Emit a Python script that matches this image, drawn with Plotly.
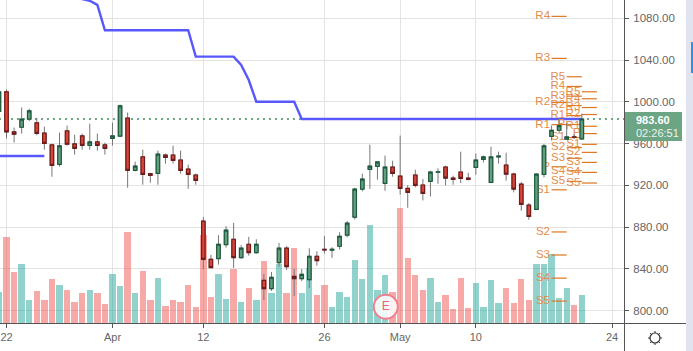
import math
import plotly.graph_objects as go

# ---- data ----
bar_index = list(range(-1, 77))
opens = [991, 1009.7, 971.2, 975.7, 983.4, 979.9, 970.2, 958.7, 940.1, 972.2, 959.7, 967.4, 958.4, 961.6, 958.7, 965.1,
         967.1, 984.4, 934.4, 947.2, 931.2, 931.5, 949.1, 949.1, 944.3, 935.6, 929.9, 885.6, 849.1, 849.8, 863.2, 868.3,
         850.7, 863.5, 855.5, 828.9, 820.9, 845.9, 859.7, 832.8, 830.5, 829.5, 852, 858.7, 857.8, 861.6, 872.2, 889.5,
         916.4, 935.3, 938.2, 921.9, 937.6, 928.9, 917, 929.9, 920.3, 923.8, 932.6, 937.6, 927, 932.8, 927, 937.2,
         944.9, 922.8, 947.2, 939.5, 930.8, 921.2, 901, 896.9, 930.5, 967, 972.8, 964.2, 966.5, 964.5]
highs = [1010.5, 1011.9, 975.4, 994.6, 993.6, 984.7, 976.3, 960, 970.6, 977.3, 968.6, 969.6, 979.2, 969.6, 961, 980.2,
         997.5, 989.8, 942.7, 954.2, 932, 953.3, 950.4, 958.1, 953.3, 939.8, 931.2, 889.5, 853.3, 872.2, 880.8, 884,
         862.6, 870.6, 868.3, 835, 837, 864.8, 861.6, 839.8, 839.8, 859.7, 856.8, 871.5, 860.6, 875, 885.6, 917.7,
         931.2, 959, 942.4, 948.5, 943.6, 967.7, 920.3, 935, 926, 934, 936.3, 938.8, 929.2, 952.3, 932, 950.4,
         948.5, 957.1, 952.3, 951.3, 932.1, 923.1, 903, 931.2, 959.7, 977.3, 983, 979.9, 969, 988.8]
lows = [991, 964.8, 961, 969.6, 981.5, 968, 954.2, 928.2, 937.9, 958.1, 949.4, 954.2, 954.2, 953.3, 949.4, 958.1,
        967, 917.7, 933.4, 920.6, 922.5, 920.6, 940.8, 940.8, 931.2, 916.7, 920.6, 839.8, 841, 844, 860.3, 840.8,
        849.8, 852.6, 854.5, 810, 818.7, 842, 838.8, 813.9, 828.3, 821.5, 843, 854.5, 850.4, 858.4, 870, 887.2,
        914.2, 916.7, 925.4, 914.8, 928.3, 911, 898.5, 918, 905.5, 909.4, 921.5, 919.9, 920.6, 922.2, 924.7, 930.2,
        942, 922.8, 940.8, 924.4, 913.2, 895.6, 887, 896.5, 927.6, 963, 969.6, 963.9, 964.5, 963.5]
closes = [1009.7, 971.2, 969, 983.4, 991.4, 969.9, 960.3, 939.2, 957.8, 959.4, 955.5, 958.4, 961.6, 958.4, 955.5, 967.4,
          996.2, 934.4, 938.5, 930.5, 929.6, 950, 946.8, 944, 934.4, 930.5, 924.7, 849.1, 841.1, 863.5, 877, 850.7,
          859.7, 855.5, 863.5, 820.9, 831.8, 859.7, 842, 830.5, 834.7, 852, 847.8, 858.1, 858.7, 871.2, 883.7, 916.4,
          926, 938.5, 942.4, 937.6, 931.5, 917, 913.2, 919.9, 912.3, 932.7, 933, 927, 925.7, 926.7, 925.7, 944.3,
          947.2, 947.2, 948.1, 930.8, 916.4, 901.7, 890.1, 930.8, 957.8, 972.8, 977.3, 966.4, 966.3, 983.6]
volumes = [31, 86, 51, 59, 23, 32, 23, 44, 38, 33, 21, 30, 33, 30, 19, 49,
           37, 91, 30, 52, 23, 45, 17, 23, 21, 38, 16, 88, 26, 49, 24, 54,
           21, 35, 23, 62, 30, 59, 30, 75, 30, 55, 28, 38, 16, 31, 26, 63,
           44, 98, 33, 48, 31, 115, 65, 48, 33, 45, 21, 28, 14, 45, 15, 40,
           16, 43, 20, 35, 20, 44, 23, 59, 59, 69, 25, 35, 18, 28]

blue_early_x = [-1, 5]
blue_early_y = [948.1, 948.1]
blue_x = [10, 11, 12, 13, 24, 25, 30, 31, 32, 33, 38, 39, 76]
blue_y = [1098.5, 1097, 1093, 1068.7, 1068.7, 1043.4, 1043.4, 1035.4, 1021, 1000.2, 1000.2, 983.6, 983.6]

last_price = 983.6
countdown = "02:26:51"

pivot_names_a = ["R4", "R3", "R2", "R1", "P", "S1", "S2", "S3", "S4", "S5"]
pivot_levels_a = [1082, 1041.7, 999.4, 978.2, 937.8, 915.7, 875.3, 853.2, 831, 809]
pivot_span_a = [72, 74]
pivot_names_b = ["R5", "R4", "R3", "R2", "R1", "P", "S1", "S2", "S3", "S4", "S5"]
pivot_levels_b = [1024.1, 1014.8, 1005.5, 996.5, 986.9, 978.3, 965.8, 956.2, 945.9, 934, 923.8]
pivot_span_b = [74, 76]
pivot_levels_c = [1009.7, 1003, 994.6, 987.9, 976.6, 969.6, 959.3, 951.6, 942, 932.4, 922.2]
pivot_span_c = [76, 78]

x_tick_pos = [0, 14, 26, 42, 52, 62, 80]
x_tick_text = ["22", "Apr", "12", "26", "May", "10", "24"]
y_ticks = [800, 840, 880, 920, 960, 1000, 1040, 1080]

earnings_x = [50.1]
earnings_y = [803.6]

# ---- style ----
W, H = 693, 351
PL_R, PL_B = 624, 323
FONT = "Liberation Sans"
GREEN_F, GREEN_L = "#629f7e", "#1f5c3f"
RED_F, RED_L = "#db4437", "#6e1c1c"
WICK = "#777779"
ORANGE_L, ORANGE_T = "#dd7722", "#e28d4a"
AXIS = "#555555"
PRICE = "#6ba583"
GRID = "#e3e3e3"


def px(x):
    return x / PL_R


def py(y):
    return 1 - y / PL_B


fig = go.Figure()

vol_colors = ["rgba(38,166,154,0.5)" if c >= o else "rgba(239,83,80,0.5)" for o, c in zip(opens, closes)]
fig.add_trace(go.Bar(x=bar_index, y=volumes, marker=dict(color=vol_colors, line_width=0), width=0.84, yaxis="y"))

fig.add_trace(go.Scatter(x=[-1, 82], y=[last_price, last_price], mode="lines", yaxis="y2", zorder=1,
                         line=dict(color=PRICE, width=2, dash="2px,4px")))
for xs, ys in ((blue_early_x, blue_early_y), (blue_x, blue_y)):
    fig.add_trace(go.Scatter(x=xs, y=ys, mode="lines", yaxis="y2", zorder=1, line=dict(color="#5858ff", width=2.4)))

for names, levels, span in ((pivot_names_a, pivot_levels_a, pivot_span_a),
                            (pivot_names_b, pivot_levels_b, pivot_span_b),
                            (pivot_names_b, pivot_levels_c, pivot_span_c)):
    lx, ly = [], []
    for lv in levels:
        lx += [span[0], span[1], None]
        ly += [lv, lv, None]
    fig.add_trace(go.Scatter(x=lx, y=ly, mode="lines", yaxis="y2", zorder=2, line=dict(color=ORANGE_L, width=1.2)))
    fig.add_trace(go.Scatter(x=[span[0] - 0.2] * len(levels), y=levels, text=names, mode="text", yaxis="y2", zorder=2,
                             textposition="middle left",
                             textfont=dict(family=FONT, size=11.5, color=ORANGE_T)))

# wicks
fig.add_trace(go.Candlestick(x=bar_index, open=opens, high=highs, low=lows, close=closes, yaxis="y2", zorder=3,
                             whiskerwidth=0,
                             increasing=dict(line=dict(color=WICK, width=1), fillcolor=WICK),
                             decreasing=dict(line=dict(color=WICK, width=1), fillcolor=WICK)))
# bodies
fig.add_trace(go.Candlestick(x=bar_index, open=opens, close=closes, yaxis="y2", zorder=4,
                             high=[max(o, c) for o, c in zip(opens, closes)],
                             low=[min(o, c) for o, c in zip(opens, closes)],
                             whiskerwidth=0,
                             increasing=dict(line=dict(color=GREEN_L, width=1.2), fillcolor=GREEN_F),
                             decreasing=dict(line=dict(color=RED_L, width=1.2), fillcolor=RED_F)))

fig.add_trace(go.Scatter(x=earnings_x, y=earnings_y, mode="markers+text", text=["E"], yaxis="y2", zorder=5,
                         textposition="middle center",
                         textfont=dict(family=FONT, size=12, color="#ee6377"),
                         marker=dict(size=24, color="rgba(255,255,255,0.85)",
                                     line=dict(color="#f0808f", width=2))))

shapes = [
    dict(type="line", xref="paper", yref="paper", x0=px(PL_R + 0.5), x1=px(PL_R + 0.5), y0=py(0), y1=py(H),
         line=dict(color=AXIS, width=1)),
    dict(type="line", xref="paper", yref="paper", x0=0, x1=px(686), y0=py(PL_B + 0.5), y1=py(PL_B + 0.5),
         line=dict(color=AXIS, width=1)),
    dict(type="rect", xref="paper", yref="paper", x0=px(686), x1=px(W), y0=py(0), y1=py(H),
         fillcolor="#e1e4ee", line_width=0),
    dict(type="rect", xref="paper", yref="paper", x0=px(691), x1=px(W), y0=py(42), y1=py(73),
         fillcolor="#2196f3", line_width=0),
    dict(type="rect", xref="paper", yref="paper", x0=px(625), x1=px(682), y0=py(112), y1=py(141),
         fillcolor=PRICE, line_width=0),
    dict(type="circle", xref="paper", yref="paper", x0=px(650), x1=px(660), y0=py(333), y1=py(343),
         line=dict(color="#333333", width=1.2)),
]
# small sun icon rays
for k in range(8):
    a = k * math.pi / 4
    shapes.append(dict(type="line", xref="paper", yref="paper",
                       x0=px(655 + 5 * math.cos(a)), x1=px(655 + 7 * math.cos(a)),
                       y0=py(338 + 5 * math.sin(a)), y1=py(338 + 7 * math.sin(a)),
                       line=dict(color="#333333", width=1)))

annotations = [
    dict(xref="paper", yref="paper", x=px(634), y=py(120), text="<b>%.2f</b>" % last_price, showarrow=False,
         xanchor="left", yanchor="middle", font=dict(family=FONT, size=11, color="white")),
    dict(xref="paper", yref="paper", x=px(634), y=py(133), text=countdown, showarrow=False,
         xanchor="left", yanchor="middle", font=dict(family=FONT, size=11, color="#eef4f0")),
]

fig.update_layout(
    width=W, height=H, autosize=False, showlegend=False, bargap=0, boxgap=0.34,
    margin=dict(l=0, r=W - PL_R, t=0, b=H - PL_B, pad=0),
    paper_bgcolor="white", plot_bgcolor="white",
    hovermode=False, shapes=shapes, annotations=annotations,
    xaxis=dict(range=[-0.86, 81.57], tickmode="array", tickvals=x_tick_pos, ticktext=x_tick_text,
               showgrid=True, gridcolor=GRID, gridwidth=1, zeroline=False,
               showline=True, linecolor=AXIS, ticks="outside", ticklen=4, tickcolor=AXIS,
               tickfont=dict(family=FONT, size=11, color="#666666"), rangeslider=dict(visible=False)),
    yaxis=dict(range=[0, 323], visible=False, showgrid=False),
    yaxis2=dict(range=[788, 1097.7], side="right", overlaying="y", tickmode="array", tickvals=y_ticks,
                ticktext=["%.2f" % v for v in y_ticks], showgrid=True, gridcolor=GRID, gridwidth=1,
                zeroline=False, showline=True, linecolor=AXIS, ticks="outside", ticklen=4, tickcolor=AXIS,
                ticklabelstandoff=2, tickfont=dict(family=FONT, size=11.5, color="#666666")),
)

fig.write_html("out.html", config=dict(displayModeBar=False),
               post_script="document.body.style.margin='0';document.body.style.overflow='hidden';")
